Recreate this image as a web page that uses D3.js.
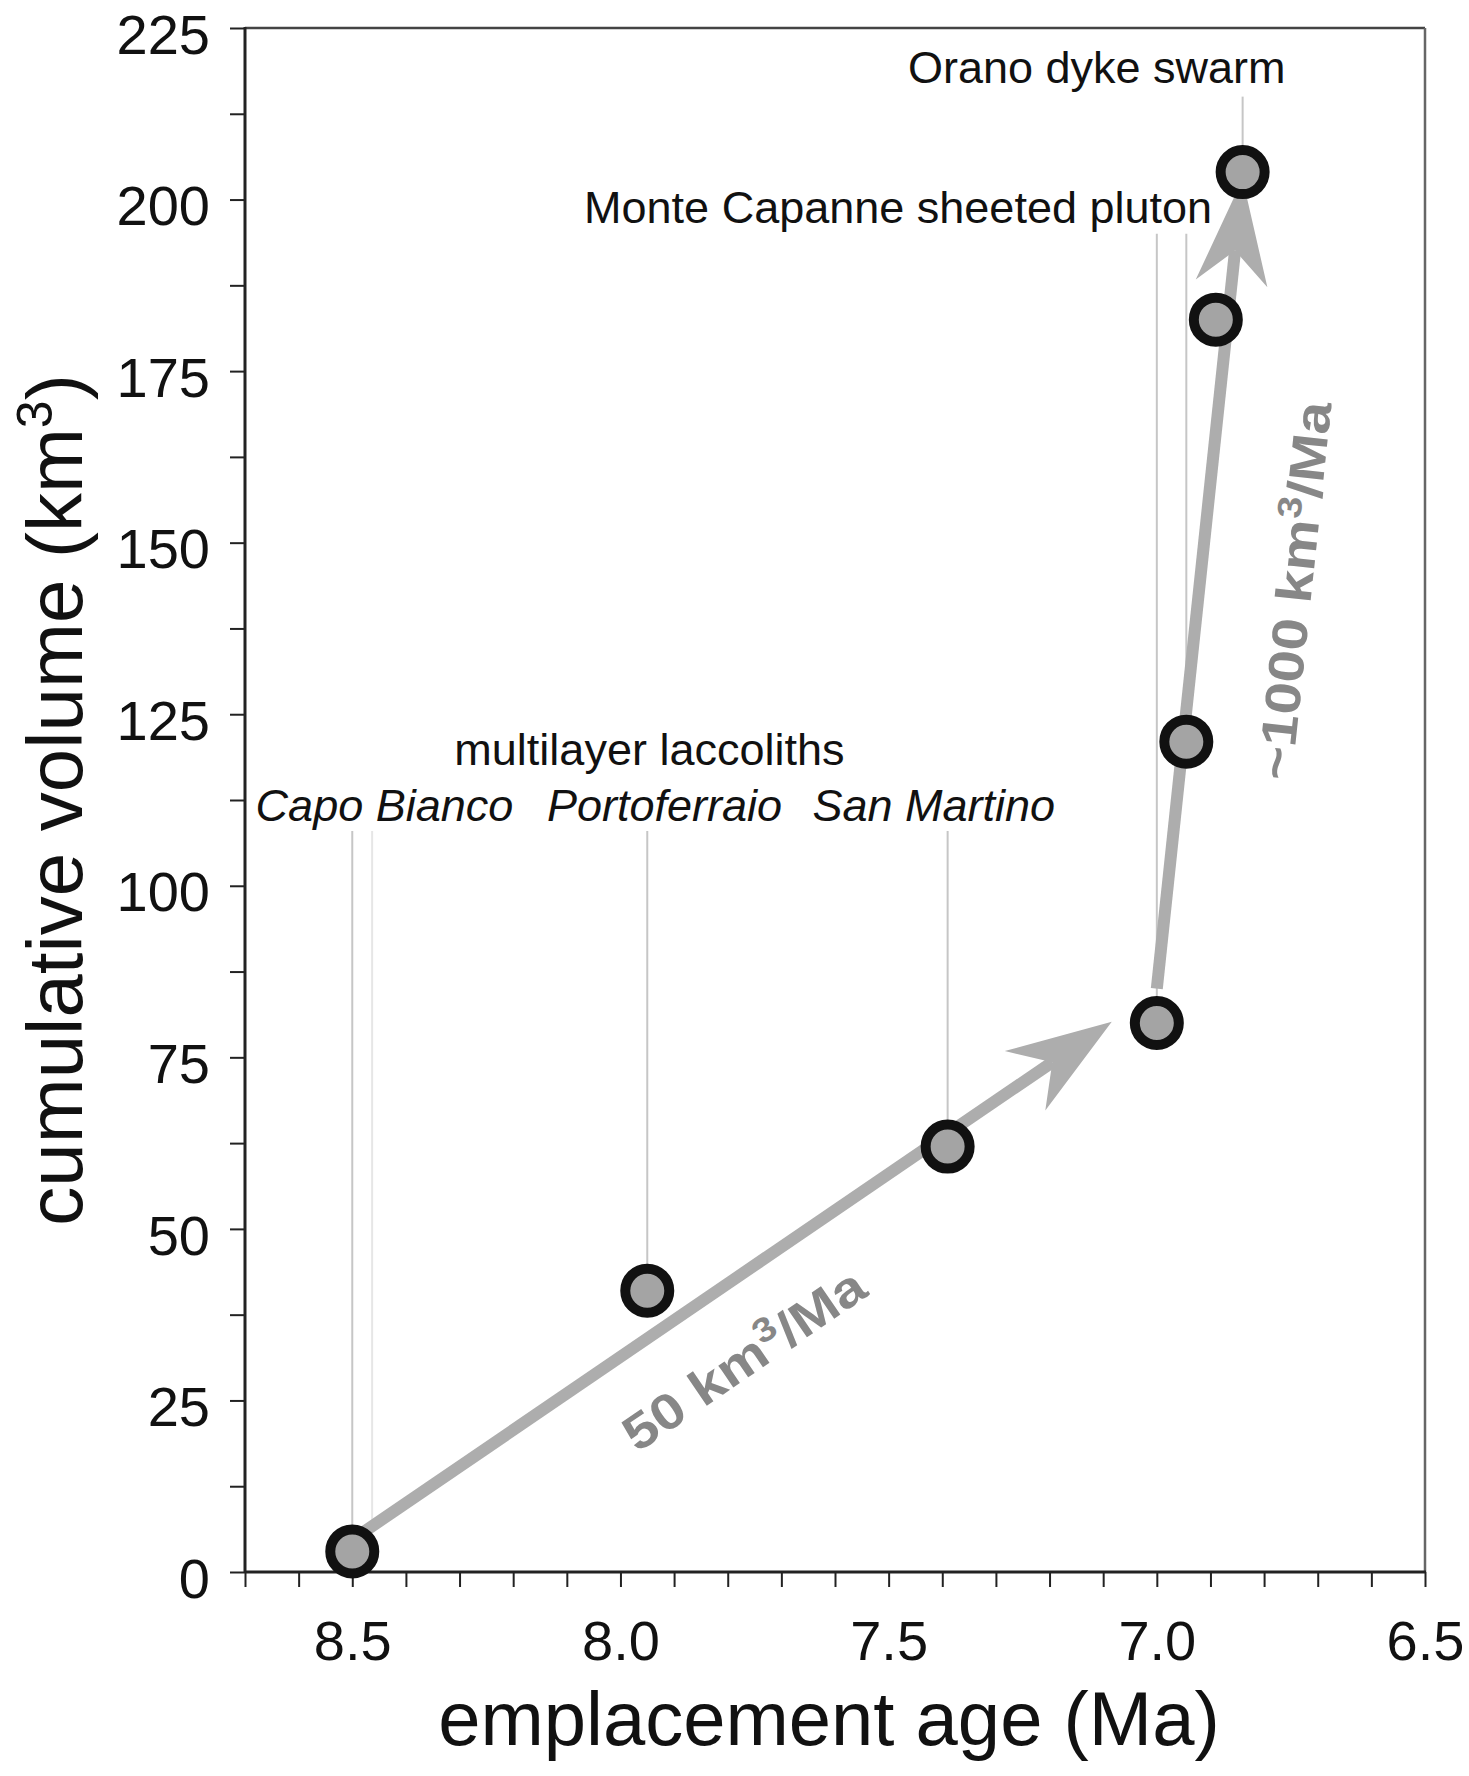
<!DOCTYPE html>
<html>
<head>
<meta charset="utf-8">
<script src="https://cdn.jsdelivr.net/npm/d3@7"></script>
<style>
body { margin: 0; background: #fff; }
text { font-family: "Liberation Sans", Arial, Helvetica, sans-serif; }
</style>
</head>
<body>
<script>
// emplacement age (Ma) and cumulative volume (km3) of each intrusion
var ages    = [8.5, 7.95, 7.39, 7.0, 6.945, 6.89, 6.84];
var volumes = [3,   41,   62,   80,  121,   182.5, 204];

// axis ticks
var xTicks = d3.range(87, 64, -1).map(function(d) { return d / 10; }); // 8.7 .. 6.5
var xTickLabels = [8.5, 8.0, 7.5, 7.0, 6.5];
var yTicks = d3.range(0, 226, 12.5);
var yTickLabels = [0, 25, 50, 75, 100, 125, 150, 175, 200, 225];

// unit names (age/volume of the text anchor)
var unitNames  = ["multilayer laccoliths", "Capo Bianco", "Portoferraio", "San Martino",
                  "Monte Capanne sheeted pluton", "Orano dyke swarm"];
var unitAge    = [7.946, 8.44, 7.918, 7.416, 6.897, 7.112];
var unitVol    = [117.6, 109.4, 109.4, 109.4, 196.6, 217];
var unitItalic = [false, true, true, true, false, false];
var unitAnchor = ["middle", "middle", "middle", "middle", "end", "middle"];

// leader lines (age, top volume, bottom volume)
var leaderAge    = [8.5, 7.95, 7.39, 7.0, 6.945, 6.84];
var leaderTop    = [108, 108,  108,  195, 195,   215];
var leaderBottom = [3,   41,   62,   80,  121,   204];
var faintLeaderAge = [8.463];

// growth-rate arrows
var arrowStart = [[8.485, 5.5], [7.0, 85]];
var arrowEnd   = [[7.084, 80.2], [6.84, 203]];
var rateValue  = ["50", "~1000"];
var rateAt     = [[7.77, 31], [6.744, 143]];

var W = 1469, H = 1776;
var margin = {left: 245, right: 44, top: 28, bottom: 204};

var svg = d3.select("body").append("svg")
    .attr("width", W)
    .attr("height", H);

var x = d3.scaleLinear().domain([8.7, 6.5]).range([margin.left, W - margin.right]);
var y = d3.scaleLinear().domain([0, 225]).range([H - margin.bottom, margin.top]);

var x0 = x.range()[0], x1 = x.range()[1], yb = y.range()[0], yt = y.range()[1];

// axes
var xAxis = d3.axisBottom(x)
    .tickValues(xTicks)
    .tickSize(15)
    .tickPadding(33)
    .tickFormat(function(d) {
        return xTickLabels.some(function(v) { return Math.abs(v - d) < 1e-6; }) ? d.toFixed(1) : "";
    });

var yAxis = d3.axisLeft(y)
    .tickValues(yTicks)
    .tickSize(15)
    .tickPadding(20)
    .tickFormat(function(d) { return yTickLabels.indexOf(d) >= 0 ? d : ""; });

var gx = svg.append("g").attr("transform", "translate(0," + yb + ")").call(xAxis);
var gy = svg.append("g").attr("transform", "translate(" + x0 + ",0)").call(yAxis);

[gx, gy].forEach(function(g) {
    g.select(".domain").remove();
    g.selectAll(".tick line").attr("stroke", "#222").attr("stroke-width", 2);
    g.selectAll(".tick text")
        .attr("fill", "#111")
        .style("font-size", "56px");
});
gy.selectAll(".tick text").attr("dy", "0.45em");

// frame
svg.append("line").attr("x1", x0).attr("x2", x1).attr("y1", yt).attr("y2", yt)
    .attr("stroke", "#444").attr("stroke-width", 2.5);
svg.append("line").attr("x1", x1).attr("x2", x1).attr("y1", yt).attr("y2", yb)
    .attr("stroke", "#666").attr("stroke-width", 2.5);
svg.append("line").attr("x1", x0).attr("x2", x0).attr("y1", yt - 1).attr("y2", yb)
    .attr("stroke", "#222").attr("stroke-width", 3);
svg.append("line").attr("x1", x0).attr("x2", x1 + 1).attr("y1", yb).attr("y2", yb)
    .attr("stroke", "#222").attr("stroke-width", 3);

// axis titles
svg.append("text")
    .attr("x", 829)
    .attr("y", 1745)
    .attr("text-anchor", "middle")
    .attr("fill", "#111")
    .style("font-size", "76px")
    .text("emplacement age (Ma)");

var yTitle = svg.append("text")
    .attr("transform", "translate(82," + ((yt + yb) / 2) + ") rotate(-90)")
    .attr("text-anchor", "middle")
    .attr("fill", "#111")
    .style("font-size", "78px");
yTitle.append("tspan").text("cumulative volume (km");
yTitle.append("tspan").attr("dy", -30).style("font-size", "50px").text("3");
yTitle.append("tspan").attr("dy", 30).text(")");

// leader lines
svg.selectAll(".leader")
    .data(leaderAge)
    .enter().append("line")
    .attr("class", "leader")
    .attr("x1", function(d) { return x(d); })
    .attr("x2", function(d) { return x(d); })
    .attr("y1", function(d, i) { return y(leaderTop[i]); })
    .attr("y2", function(d, i) { return y(leaderBottom[i]); })
    .attr("stroke", "#c6c6c6")
    .attr("stroke-width", 2);

svg.selectAll(".faint")
    .data(faintLeaderAge)
    .enter().append("line")
    .attr("class", "faint")
    .attr("x1", function(d) { return x(d); })
    .attr("x2", function(d) { return x(d); })
    .attr("y1", y(108))
    .attr("y2", y(6))
    .attr("stroke", "#e6e6e6")
    .attr("stroke-width", 2);

// arrows
var arrowColor = "#adadad";
var headLen = 105, headHalf = 36, notch = 72;

arrowStart.forEach(function(s, i) {
    var e = arrowEnd[i];
    var sx = x(s[0]), sy = y(s[1]), ex = x(e[0]), ey = y(e[1]);
    var ang = Math.atan2(ey - sy, ex - sx) * 180 / Math.PI;
    var len = Math.hypot(ex - sx, ey - sy);
    var g = svg.append("g")
        .attr("transform", "translate(" + sx + "," + sy + ") rotate(" + ang + ")");
    g.append("line")
        .attr("x1", 0).attr("y1", 0)
        .attr("x2", len - notch).attr("y2", 0)
        .attr("stroke", arrowColor)
        .attr("stroke-width", 12);
    g.append("path")
        .attr("d", "M" + len + ",0 L" + (len - headLen) + "," + (-headHalf) +
                   " L" + (len - notch) + ",0 L" + (len - headLen) + "," + headHalf + "Z")
        .attr("fill", arrowColor);
});

// data points
svg.selectAll(".pt")
    .data(ages)
    .enter().append("circle")
    .attr("class", "pt")
    .attr("cx", function(d) { return x(d); })
    .attr("cy", function(d, i) { return y(volumes[i]); })
    .attr("r", 22)
    .attr("fill", "#a4a4a4")
    .attr("stroke", "#111")
    .attr("stroke-width", 10);

// unit labels
svg.selectAll(".unit")
    .data(unitNames)
    .enter().append("text")
    .attr("class", "unit")
    .attr("x", function(d, i) { return x(unitAge[i]); })
    .attr("y", function(d, i) { return y(unitVol[i]); })
    .attr("text-anchor", function(d, i) { return unitAnchor[i]; })
    .style("font-style", function(d, i) { return unitItalic[i] ? "italic" : "normal"; })
    .style("font-size", "45px")
    .attr("fill", "#111")
    .text(function(d) { return d; });

// rate labels
var rateLength = [282, 380];
rateValue.forEach(function(v, i) {
    var s = arrowStart[i], e = arrowEnd[i];
    var ang = Math.atan2(y(e[1]) - y(s[1]), x(e[0]) - x(s[0])) * 180 / Math.PI;
    var t = svg.append("text")
        .attr("text-anchor", "middle")
        .attr("dy", "0.35em")
        .attr("fill", "#878787")
        .style("font-size", "50px")
        .style("font-weight", "bold");
    t.append("tspan").text(v + " km");
    t.append("tspan").attr("dy", -19).style("font-size", "34px").text("3");
    t.append("tspan").attr("dy", 19).text("/Ma");
    var natural = t.node().getComputedTextLength();
    t.attr("transform", "translate(" + x(rateAt[i][0]) + "," + y(rateAt[i][1]) + ") rotate(" + ang +
        ") scale(" + (rateLength[i] / natural) + ",1)");
});
</script>
</body>
</html>
